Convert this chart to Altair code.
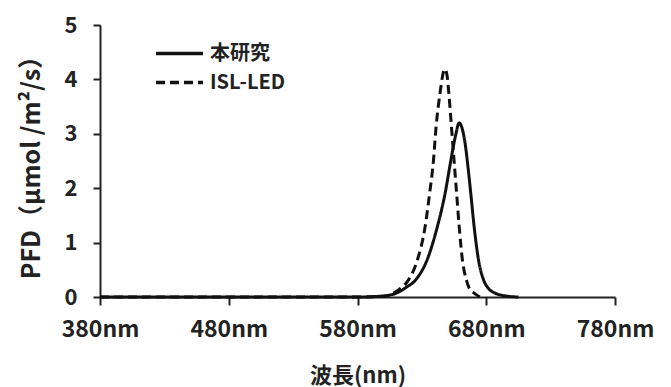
import altair as alt
import pandas as pd

# 本研究 (solid)
wl_solid = [380, 450, 520, 580, 600, 610, 618, 625, 634, 642, 648, 652.5, 656, 659, 661, 663.6, 666, 668, 670.6, 674, 678, 682, 687, 695, 705]
pfd_solid = [0, 0, 0, 0, 0.02, 0.07, 0.18, 0.31, 0.68, 1.29, 1.90, 2.51, 2.95, 3.20, 3.12, 2.82, 2.35, 1.90, 1.29, 0.68, 0.31, 0.15, 0.07, 0.02, 0]

# ISL-LED (dashed)
wl_isl = [380, 450, 520, 580, 600, 608, 614, 619.5, 626.5, 632.5, 636, 639, 641, 644, 647.8, 649.5, 651, 653, 655, 657, 659, 661.5, 664.6, 667, 670.6, 675]
pfd_isl = [0, 0, 0, 0, 0.01, 0.07, 0.17, 0.31, 0.68, 1.29, 1.90, 2.51, 3.12, 3.73, 4.19, 4.08, 3.73, 3.12, 2.51, 1.90, 1.29, 0.68, 0.31, 0.15, 0.07, 0]

series_names = ["本研究", "ISL-LED"]
x_ticks = [380, 480, 580, 680, 780]
y_ticks = [0, 1, 2, 3, 4, 5]

rows = []
for w, p in zip(wl_solid, pfd_solid):
    rows.append({"wl": w, "pfd": p, "series": series_names[0]})
for w, p in zip(wl_isl, pfd_isl):
    rows.append({"wl": w, "pfd": p, "series": series_names[1]})
df = pd.DataFrame(rows)

FONT = "Noto Sans CJK JP"

chart = alt.Chart(df).mark_line(strokeWidth=3, interpolate="monotone", color="#111").encode(
    x=alt.X("wl:Q",
            scale=alt.Scale(domain=[380, 780], nice=False, zero=False),
            axis=alt.Axis(values=x_ticks, labelExpr="datum.value + 'nm'", title="波長(nm)",
                          grid=False, tickSize=8, labelPadding=13, titlePadding=24,
                          labelFlush=False, labelOverlap=False, titleFontSize=22)),
    y=alt.Y("pfd:Q",
            scale=alt.Scale(domain=[0, 5], nice=False),
            axis=alt.Axis(values=y_ticks, title="PFD（μmol /m²/s）",
                          grid=False, tickSize=7, labelPadding=16, titlePadding=20,
                          labelFlush=False, titleFontSize=25, labelFontSize=22)),
    strokeDash=alt.StrokeDash("series:N",
                              scale=alt.Scale(domain=series_names, range=[[1, 0], [9, 5]]),
                              legend=alt.Legend(title=None, orient="none", legendX=66, legendY=15,
                                                symbolType="M-2,0H2", symbolSize=552,
                                                symbolStrokeWidth=3.5, symbolStrokeColor="#111",
                                                labelFontSize=20, labelFont=FONT, labelFontWeight="bold",
                                                labelColor="#222", rowPadding=5, labelOffset=17)),
).properties(
    width=515, height=272,
    autosize=alt.AutoSizeParams(type="none"),
    padding={"left": 92, "top": 17, "right": 40, "bottom": 90},
).configure_axis(
    domainColor="#222", domainWidth=2, tickColor="#222", tickWidth=2,
    labelFont=FONT, labelFontSize=23, labelFontWeight="bold", labelColor="#222",
    titleFont=FONT, titleFontWeight="bold", titleColor="#222",
).configure_view(stroke=None)

chart.save("out.html", embed_options={"renderer": "svg", "actions": False})
